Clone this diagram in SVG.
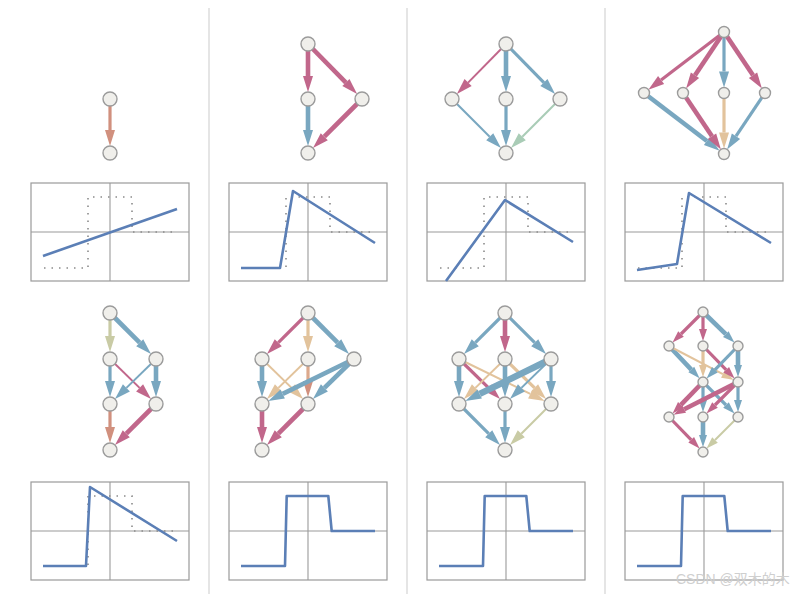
<svg xmlns="http://www.w3.org/2000/svg" width="803" height="594" viewBox="0 0 803 594">
<defs>
<style>
.pk{stroke:#c1678b}.bl{stroke:#79a7c0}.tn{stroke:#e2c39c}.gr{stroke:#a9ccb6}.ol{stroke:#c9cba5}.sa{stroke:#d1907e}
.e{fill:none}
.t1{stroke-width:2}.t2{stroke-width:3.2}.t3{stroke-width:4.6}.t4{stroke-width:6.5}
.n{fill:#f0efeb;stroke:#9b9b9b;stroke-width:1.4}
.box{fill:none;stroke:#9a9a9a;stroke-width:1.2}
.ax{stroke:#9a9a9a;stroke-width:1.1}
.dot{fill:none;stroke:#8a8a8a;stroke-width:1.6;stroke-dasharray:1.5 6}
.pl{fill:none;stroke:#5b7fb6;stroke-width:2.6;stroke-linejoin:round}
.sep{stroke:#dcdcdc;stroke-width:1.5}
</style>
<marker id="a-pk" markerUnits="userSpaceOnUse" markerWidth="16" markerHeight="10" refX="0" refY="5" orient="auto" overflow="visible"><path d="M0,0 L16,5 L0,10 z" fill="#c1678b"/></marker>
<marker id="a-bl" markerUnits="userSpaceOnUse" markerWidth="16" markerHeight="10" refX="0" refY="5" orient="auto" overflow="visible"><path d="M0,0 L16,5 L0,10 z" fill="#79a7c0"/></marker>
<marker id="a-tn" markerUnits="userSpaceOnUse" markerWidth="16" markerHeight="10" refX="0" refY="5" orient="auto" overflow="visible"><path d="M0,0 L16,5 L0,10 z" fill="#e2c39c"/></marker>
<marker id="a-gr" markerUnits="userSpaceOnUse" markerWidth="16" markerHeight="10" refX="0" refY="5" orient="auto" overflow="visible"><path d="M0,0 L16,5 L0,10 z" fill="#a9ccb6"/></marker>
<marker id="a-ol" markerUnits="userSpaceOnUse" markerWidth="16" markerHeight="10" refX="0" refY="5" orient="auto" overflow="visible"><path d="M0,0 L16,5 L0,10 z" fill="#c9cba5"/></marker>
<marker id="a-sa" markerUnits="userSpaceOnUse" markerWidth="16" markerHeight="10" refX="0" refY="5" orient="auto" overflow="visible"><path d="M0,0 L16,5 L0,10 z" fill="#d1907e"/></marker>
<marker id="s-pk" markerUnits="userSpaceOnUse" markerWidth="12" markerHeight="8" refX="0" refY="4" orient="auto" overflow="visible"><path d="M0,0 L12,4 L0,8 z" fill="#c1678b"/></marker>
<marker id="s-bl" markerUnits="userSpaceOnUse" markerWidth="12" markerHeight="8" refX="0" refY="4" orient="auto" overflow="visible"><path d="M0,0 L12,4 L0,8 z" fill="#79a7c0"/></marker>
<marker id="s-tn" markerUnits="userSpaceOnUse" markerWidth="12" markerHeight="8" refX="0" refY="4" orient="auto" overflow="visible"><path d="M0,0 L12,4 L0,8 z" fill="#e2c39c"/></marker>
<marker id="s-ol" markerUnits="userSpaceOnUse" markerWidth="12" markerHeight="8" refX="0" refY="4" orient="auto" overflow="visible"><path d="M0,0 L12,4 L0,8 z" fill="#c9cba5"/></marker>
<g id="plotA">
<path class="dot" d="M44,268 H88 V197 H132 V232 H176"/>
</g>
<g id="frame1">
<rect class="box" x="31" y="183" width="158" height="98"/>
<line class="ax" x1="110" y1="183" x2="110" y2="281"/>
<line class="ax" x1="31" y1="232" x2="189" y2="232"/>
</g>
<g id="frame2">
<rect class="box" x="31" y="482" width="158" height="98"/>
<line class="ax" x1="110" y1="482" x2="110" y2="580"/>
<line class="ax" x1="31" y1="531" x2="189" y2="531"/>
</g>
</defs>
<rect width="803" height="594" fill="#ffffff"/>

<g id="separators">
<line class="sep" x1="209" y1="8" x2="209" y2="594"/>
<line class="sep" x1="407" y1="8" x2="407" y2="594"/>
<line class="sep" x1="605" y1="8" x2="605" y2="594"/>
</g>

<g id="connectors">
<!-- row1 col1 -->
<line class="e sa t2" x1="110" y1="99" x2="110" y2="130" marker-end="url(#a-sa)"/>
<!-- row1 col2 -->
<line class="e pk t3" x1="308" y1="44" x2="308" y2="76" marker-end="url(#a-pk)"/>
<line class="e pk t3" x1="308" y1="44" x2="345.9" y2="82.6" marker-end="url(#a-pk)"/>
<line class="e bl t3" x1="308" y1="99" x2="308" y2="130" marker-end="url(#a-bl)"/>
<line class="e pk t3" x1="362" y1="99" x2="324.3" y2="136.7" marker-end="url(#a-pk)"/>
<!-- row1 col3 -->
<line class="e pk t1" x1="506" y1="44" x2="468.1" y2="82.6" marker-end="url(#a-pk)"/>
<line class="e bl t3" x1="506" y1="44" x2="506" y2="76" marker-end="url(#a-bl)"/>
<line class="e bl t2" x1="506" y1="44" x2="543.9" y2="82.6" marker-end="url(#a-bl)"/>
<line class="e bl t1" x1="452" y1="99" x2="489.7" y2="136.7" marker-end="url(#a-bl)"/>
<line class="e bl t2" x1="506" y1="99" x2="506" y2="130" marker-end="url(#a-bl)"/>
<line class="e gr t1" x1="560" y1="99" x2="522.3" y2="136.7" marker-end="url(#a-gr)"/>
<!-- row1 col4 -->
<line class="e pk t2" x1="724" y1="32" x2="661.1" y2="80" marker-end="url(#a-pk)"/>
<line class="e pk t3" x1="724" y1="32" x2="695" y2="75.2" marker-end="url(#a-pk)"/>
<line class="e bl t2" x1="724" y1="32" x2="724" y2="71.5" marker-end="url(#a-bl)"/>
<line class="e pk t3" x1="724" y1="32" x2="753" y2="75.2" marker-end="url(#a-pk)"/>
<line class="e bl t3" x1="644" y1="93" x2="706.9" y2="141" marker-end="url(#a-bl)"/>
<line class="e pk t3" x1="683" y1="93" x2="712" y2="136.2" marker-end="url(#a-pk)"/>
<line class="e tn t2" x1="724" y1="93" x2="724" y2="132.5" marker-end="url(#a-tn)"/>
<line class="e bl t2" x1="765" y1="93" x2="736" y2="136.2" marker-end="url(#a-bl)"/>
<!-- row2 col1 -->
<line class="e ol t2" x1="110" y1="313" x2="110" y2="336" marker-end="url(#a-ol)"/>
<line class="e bl t3" x1="110" y1="313" x2="139.7" y2="342.7" marker-end="url(#a-bl)"/>
<line class="e bl t2" x1="110" y1="359" x2="110" y2="381" marker-end="url(#a-bl)"/>
<line class="e pk t1" x1="110" y1="359" x2="139.6" y2="387.9" marker-end="url(#a-pk)"/>
<line class="e bl t1" x1="156" y1="359" x2="126.4" y2="387.9" marker-end="url(#a-bl)"/>
<line class="e bl t3" x1="156" y1="359" x2="156" y2="381" marker-end="url(#a-bl)"/>
<line class="e sa t2" x1="110" y1="404" x2="110" y2="427" marker-end="url(#a-sa)"/>
<line class="e pk t3" x1="156" y1="404" x2="126.3" y2="433.7" marker-end="url(#a-pk)"/>
<!-- row2 col2 -->
<line class="e pk t2" x1="308" y1="313" x2="278.3" y2="342.7" marker-end="url(#a-pk)"/>
<line class="e tn t2" x1="308" y1="313" x2="308" y2="336" marker-end="url(#a-tn)"/>
<line class="e bl t3" x1="308" y1="313" x2="337.7" y2="342.7" marker-end="url(#a-bl)"/>
<line class="e bl t3" x1="262" y1="359" x2="262" y2="381" marker-end="url(#a-bl)"/>
<line class="e tn t1" x1="262" y1="359" x2="291.6" y2="387.9" marker-end="url(#a-tn)"/>
<line class="e tn t1" x1="308" y1="359" x2="278.4" y2="387.9" marker-end="url(#a-tn)"/>
<line class="e sa t2" x1="308" y1="359" x2="308" y2="381" marker-end="url(#a-sa)" style="stroke:#dca98c"/>
<line class="e bl t3" x1="354" y1="359" x2="282.7" y2="393.9" marker-end="url(#a-bl)"/>
<line class="e bl t3" x1="354" y1="359" x2="324.4" y2="387.9" marker-end="url(#a-bl)"/>
<line class="e pk t3" x1="262" y1="404" x2="262" y2="427" marker-end="url(#a-pk)"/>
<line class="e pk t3" x1="308" y1="404" x2="278.3" y2="433.7" marker-end="url(#a-pk)"/>
<!-- row2 col3 -->
<line class="e bl t2" x1="505" y1="313" x2="475.3" y2="342.7" marker-end="url(#a-bl)"/>
<line class="e pk t3" x1="505" y1="313" x2="505" y2="336" marker-end="url(#a-pk)"/>
<line class="e bl t2" x1="505" y1="313" x2="534.7" y2="342.7" marker-end="url(#a-bl)"/>
<line class="e bl t3" x1="459" y1="359" x2="459" y2="381" marker-end="url(#a-bl)"/>
<line class="e pk t2" x1="459" y1="359" x2="488.6" y2="387.9" marker-end="url(#a-pk)"/>
<line class="e tn t1" x1="459" y1="359" x2="530.3" y2="393.9" marker-end="url(#a-tn)"/>
<line class="e tn t1" x1="505" y1="359" x2="475.4" y2="387.9" marker-end="url(#a-tn)"/>
<line class="e bl t3" x1="505" y1="359" x2="505" y2="381" marker-end="url(#a-bl)"/>
<line class="e tn t2" x1="505" y1="359" x2="534.6" y2="387.9" marker-end="url(#a-tn)"/>
<line class="e bl t4" x1="551" y1="359" x2="479.7" y2="393.9" marker-end="url(#a-bl)"/>
<line class="e bl t1" x1="551" y1="359" x2="521.4" y2="387.9" marker-end="url(#a-bl)"/>
<line class="e bl t2" x1="551" y1="359" x2="551" y2="381" marker-end="url(#a-bl)"/>
<line class="e bl t2" x1="459" y1="404" x2="488.7" y2="433.7" marker-end="url(#a-bl)"/>
<line class="e bl t2" x1="505" y1="404" x2="505" y2="427" marker-end="url(#a-bl)"/>
<line class="e ol t1" x1="551" y1="404" x2="521.3" y2="433.7" marker-end="url(#a-ol)"/>
<!-- row2 col4 -->
<line class="e pk t2" x1="703" y1="312" x2="681" y2="334" marker-end="url(#s-pk)"/>
<line class="e pk t2" x1="703" y1="312" x2="703" y2="329" marker-end="url(#s-pk)"/>
<line class="e bl t3" x1="703" y1="312" x2="725.8" y2="334.2" marker-end="url(#s-bl)"/>
<line class="e bl t3" x1="669" y1="346" x2="691.3" y2="369.6" marker-end="url(#s-bl)"/>
<line class="e tn t1" x1="669" y1="346" x2="722.9" y2="374.1" marker-end="url(#s-tn)"/>
<line class="e tn t2" x1="703" y1="346" x2="703" y2="365" marker-end="url(#s-tn)"/>
<line class="e pk t2" x1="703" y1="346" x2="726.2" y2="369.8" marker-end="url(#s-pk)"/>
<line class="e bl t2" x1="738" y1="346" x2="714.9" y2="369.8" marker-end="url(#s-bl)"/>
<line class="e bl t3" x1="738" y1="346" x2="738" y2="365" marker-end="url(#s-bl)"/>
<line class="e pk t3" x1="703" y1="382" x2="680.9" y2="404.8" marker-end="url(#s-pk)"/>
<line class="e bl t2" x1="703" y1="382" x2="703" y2="400" marker-end="url(#s-bl)"/>
<line class="e bl t2" x1="703" y1="382" x2="726" y2="405" marker-end="url(#s-bl)"/>
<line class="e pk t3" x1="738" y1="382" x2="684.2" y2="409.3" marker-end="url(#s-pk)"/>
<line class="e pk t2" x1="738" y1="382" x2="715" y2="405" marker-end="url(#s-pk)"/>
<line class="e bl t2" x1="738" y1="382" x2="738" y2="400" marker-end="url(#s-bl)"/>
<line class="e pk t2" x1="669" y1="417" x2="691.2" y2="439.8" marker-end="url(#s-pk)"/>
<line class="e bl t3" x1="703" y1="417" x2="703" y2="435" marker-end="url(#s-bl)"/>
<line class="e ol t1" x1="738" y1="417" x2="715" y2="440" marker-end="url(#s-ol)"/>
</g>

<g id="g1">
<circle id="g1n1" class="n" cx="110" cy="99" r="7"/>
<circle id="g1n2" class="n" cx="110" cy="153" r="7"/>
</g>
<g id="g2">
<circle class="n" cx="308" cy="44" r="7"/>
<circle class="n" cx="308" cy="99" r="7"/>
<circle class="n" cx="362" cy="99" r="7"/>
<circle class="n" cx="308" cy="153" r="7"/>
</g>
<g id="g3">
<circle class="n" cx="506" cy="44" r="7"/>
<circle class="n" cx="452" cy="99" r="7"/>
<circle class="n" cx="506" cy="99" r="7"/>
<circle class="n" cx="560" cy="99" r="7"/>
<circle class="n" cx="506" cy="153" r="7"/>
</g>
<g id="g4">
<circle class="n" cx="724" cy="32" r="5.5"/>
<circle class="n" cx="644" cy="93" r="5.5"/>
<circle class="n" cx="683" cy="93" r="5.5"/>
<circle class="n" cx="724" cy="93" r="5.5"/>
<circle class="n" cx="765" cy="93" r="5.5"/>
<circle class="n" cx="724" cy="154" r="5.5"/>
</g>
<g id="g5">
<circle class="n" cx="110" cy="313" r="7"/>
<circle class="n" cx="110" cy="359" r="7"/>
<circle class="n" cx="156" cy="359" r="7"/>
<circle class="n" cx="110" cy="404" r="7"/>
<circle class="n" cx="156" cy="404" r="7"/>
<circle class="n" cx="110" cy="450" r="7"/>
</g>
<g id="g6">
<circle class="n" cx="308" cy="313" r="7"/>
<circle class="n" cx="262" cy="359" r="7"/>
<circle class="n" cx="308" cy="359" r="7"/>
<circle class="n" cx="354" cy="359" r="7"/>
<circle class="n" cx="262" cy="404" r="7"/>
<circle class="n" cx="308" cy="404" r="7"/>
<circle class="n" cx="262" cy="450" r="7"/>
</g>
<g id="g7">
<circle class="n" cx="505" cy="313" r="7"/>
<circle class="n" cx="459" cy="359" r="7"/>
<circle class="n" cx="505" cy="359" r="7"/>
<circle class="n" cx="551" cy="359" r="7"/>
<circle class="n" cx="459" cy="404" r="7"/>
<circle class="n" cx="505" cy="404" r="7"/>
<circle class="n" cx="551" cy="404" r="7"/>
<circle class="n" cx="505" cy="450" r="7"/>
</g>
<g id="g8">
<circle class="n" cx="703" cy="312" r="5"/>
<circle class="n" cx="669" cy="346" r="5"/>
<circle class="n" cx="703" cy="346" r="5"/>
<circle class="n" cx="738" cy="346" r="5"/>
<circle class="n" cx="703" cy="382" r="5"/>
<circle class="n" cx="738" cy="382" r="5"/>
<circle class="n" cx="669" cy="417" r="5"/>
<circle class="n" cx="703" cy="417" r="5"/>
<circle class="n" cx="738" cy="417" r="5"/>
<circle class="n" cx="703" cy="452" r="5"/>
</g>

<g id="plots-row1">
<g id="p1"><use href="#frame1"/><use href="#plotA"/><path class="pl" d="M43,256 L177,209"/></g>
<g id="p2" transform="translate(198,0)"><use href="#frame1"/><use href="#plotA"/><path class="pl" d="M43,268 L82,268 L95,191 L177,243"/></g>
<g id="p3" transform="translate(396,0)"><use href="#frame1"/><use href="#plotA"/><path class="pl" d="M50,281 L109,200 L177,242"/></g>
<g id="p4" transform="translate(594,0)"><use href="#frame1"/><use href="#plotA"/><path class="pl" d="M43,270 L83,264 L95,193 L177,243"/></g>
</g>
<g id="plots-row2">
<g id="p5"><use href="#frame2"/><path class="dot" d="M44,566 H88 V496 H132 V531 H176"/><path class="pl" d="M43,566 L86,566 L90,487 L177,541"/></g>
<g id="p6" transform="translate(198,0)"><use href="#frame2"/><path class="pl" d="M43,566 L87,566 L88.7,496 L130.3,496 L133.7,531 L177,531"/></g>
<g id="p7" transform="translate(396,0)"><use href="#frame2"/><path class="pl" d="M43,566 L87,566 L88.7,496 L130.3,496 L133.7,531 L177,531"/></g>
<g id="p8" transform="translate(594,0)"><use href="#frame2"/><path class="pl" d="M43,566 L87,566 L88.7,496 L130.3,496 L133.7,531 L177,531"/></g>
</g>

<text x="676" y="584" font-family="'Liberation Sans','Noto Sans CJK SC',sans-serif" font-size="14" fill="#cfcfcf">CSDN @双木的木</text>
</svg>
